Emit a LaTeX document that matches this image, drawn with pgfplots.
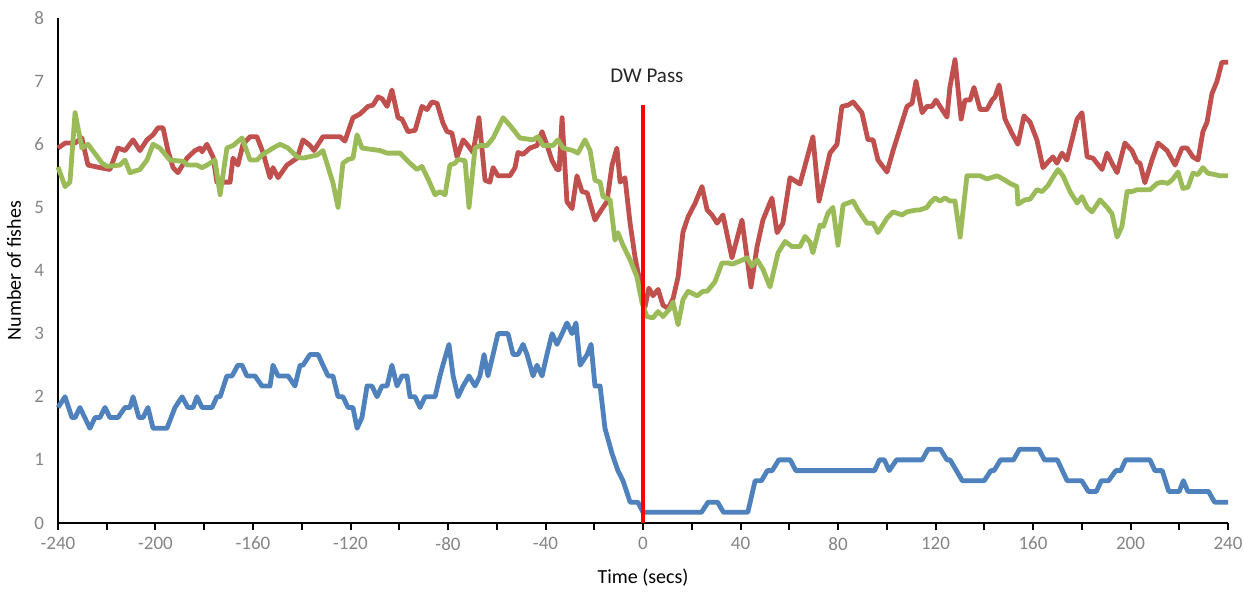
\documentclass[border=0pt]{standalone}
\usepackage{pgfplots}
\pgfplotsset{compat=1.18}
\usepackage{fontspec}
\setmainfont{Carlito}
\definecolor{cred}{HTML}{C0504D}
\definecolor{cgreen}{HTML}{9BBB59}
\definecolor{cblue}{HTML}{4F81BD}
\definecolor{tickgray}{HTML}{858585}
\definecolor{labgray}{HTML}{6E6E6E}
\begin{document}
\begin{tikzpicture}
\begin{axis}[
  scale only axis, width=585pt, height=252.5pt,
  xmin=-240, xmax=240, ymin=0, ymax=8,
  axis x line*=bottom, axis y line*=left,
  axis line style={black, line width=1pt},
  xtick={-240,-200,...,240}, minor xtick={-220,-180,...,220},
  ytick={0,1,...,8},
  tick align=outside, major tick length=3.5pt, minor tick length=3.5pt,
  x tick style={black, line width=1pt},
  y tick style={draw=none},
  /pgf/number format/assume math mode=true,
  ticklabel style={font=\fontsize{9.5}{11}\selectfont, text=tickgray},
  xlabel={Time (secs)}, ylabel={Number of fishes},
  label style={font=\fontsize{9.5}{11}\selectfont, text=labgray},
  every axis x label/.style={at={(axis description cs:0.5,-0.109)}, anchor=center},
  every axis y label/.style={at={(axis description cs:-0.0376,0.5)}, anchor=center, rotate=90},
  clip=false,
  line join=round,
]
\addplot[cred, line width=2.4pt] coordinates {
(-240,5.94)(-237,6.02)(-233,6.02)(-230.2,6.1)(-227.7,5.67)(-222.8,5.63)(-218.7,5.6)(-215.4,5.94)(-212.5,5.9)(-209.2,6.07)(-206.4,5.9)(-203.5,6.07)(-201,6.15)(-199,6.26)(-196.9,6.26)(-194.9,5.9)(-192.8,5.63)(-190.8,5.55)(-187.1,5.78)(-183.8,5.9)(-181.7,5.94)(-180.9,5.88)(-178.9,6.0)(-176.4,5.8)(-174.8,5.4)(-169.4,5.4)(-168.2,5.78)(-166.2,5.67)(-164.1,6.0)(-161.2,6.12)(-158.4,6.12)(-155.9,5.87)(-153,5.47)(-151.8,5.63)(-149.7,5.47)(-146.1,5.67)(-141.9,5.78)(-139.5,6.07)(-136.6,5.98)(-135,5.9)(-131.3,6.12)(-124.3,6.12)(-122.3,6.05)(-119,6.42)(-116.1,6.48)(-112.8,6.6)(-110.8,6.62)(-108.7,6.75)(-107,6.72)(-105,6.6)(-103,6.86)(-100.5,6.42)(-98.9,6.4)(-96.4,6.2)(-93.5,6.22)(-90.7,6.6)(-88.6,6.55)(-86.6,6.67)(-84.5,6.65)(-82.1,6.34)(-80.4,6.2)(-78.4,6.18)(-76.3,5.8)(-73.8,6.07)(-71.8,5.98)(-69.7,5.87)(-67.3,6.42)(-64.8,5.43)(-62.8,5.4)(-61.5,5.63)(-59.5,5.5)(-54.6,5.5)(-52.5,5.63)(-51.3,5.87)(-49.2,5.84)(-46.4,5.94)(-43.5,5.98)(-41.4,6.2)(-39,5.94)(-37.3,5.74)(-35.3,5.6)(-34.4,5.6)(-33.2,6.42)(-31.2,5.09)(-29.1,4.98)(-27.1,5.5)(-25,5.25)(-22.9,5.23)(-19.7,4.8)(-17.6,4.93)(-14.8,5.09)(-12.7,5.67)(-10.7,5.94)(-9.4,5.4)(-7.4,5.47)(-5.3,4.75)(-3.3,4.22)(-1.2,3.8)(0.8,3.42)(2.4,3.72)(4.1,3.6)(6.2,3.7)(8.2,3.45)(10.3,3.4)(12.3,3.55)(14.4,3.9)(16.4,4.61)(18.5,4.85)(21.3,5.06)(24.2,5.33)(26.3,4.96)(28.3,4.88)(30.4,4.75)(32.8,4.88)(36.5,4.2)(40.6,4.8)(44.3,3.74)(46.8,4.38)(49.2,4.8)(52.9,5.15)(55,4.6)(57.4,4.75)(60.3,5.47)(64.4,5.37)(69.7,6.12)(72.2,5.1)(76.7,5.86)(79.6,6.0)(81.6,6.6)(84.1,6.62)(86.2,6.67)(89.8,6.5)(92.3,6.07)(94.4,6.07)(96.4,5.75)(100.1,5.56)(102.6,5.9)(108.3,6.6)(110.4,6.65)(112,7.0)(114.5,6.5)(116.5,6.6)(118.6,6.6)(120.2,6.7)(122.7,6.55)(124.7,6.43)(125.9,6.9)(128,7.34)(130.5,6.4)(132.1,6.7)(134.2,6.7)(135.8,6.9)(138.3,6.55)(141.1,6.55)(143.2,6.7)(144.4,6.75)(146.1,6.94)(148.5,6.4)(151.4,6.17)(153.8,6.0)(156.3,6.45)(158.8,6.35)(161.6,6.07)(164.1,5.63)(166.2,5.72)(168.2,5.8)(169.8,5.7)(171.9,5.86)(173.9,5.75)(176,6.07)(178.1,6.4)(180.1,6.5)(182.2,5.8)(184.6,5.78)(188.3,5.6)(190.4,5.86)(192.4,5.7)(194.5,5.55)(197.7,6.02)(200.6,5.9)(202.7,5.72)(203.9,5.7)(205.9,5.39)(208.8,5.75)(211.3,6.02)(215,5.9)(218.3,5.67)(221.1,5.94)(223.2,5.94)(225.6,5.8)(227.7,5.75)(229.7,6.2)(231.4,6.35)(233.4,6.8)(235.5,7.0)(237.5,7.3)(240,7.3)
};
\addplot[cgreen, line width=2.4pt] coordinates {
(-240,5.64)(-237.1,5.33)(-235.1,5.4)(-233,6.5)(-230.2,5.94)(-227.7,6.0)(-224.8,5.85)(-221.9,5.7)(-219.9,5.65)(-214.6,5.67)(-212.5,5.75)(-210.5,5.55)(-206.4,5.6)(-203.5,5.75)(-201,6.0)(-198.2,5.94)(-194.1,5.75)(-188.7,5.73)(-186.7,5.67)(-183,5.67)(-180.9,5.63)(-178.9,5.67)(-175.6,5.75)(-173.5,5.2)(-170.7,5.94)(-168.2,5.98)(-164.5,6.1)(-161.2,5.75)(-158.4,5.75)(-156.3,5.83)(-151.8,5.94)(-148.9,6.0)(-145.6,5.94)(-141.9,5.8)(-139.5,5.78)(-133.7,5.83)(-131.3,5.9)(-127.2,5.39)(-125.1,5.0)(-123.1,5.7)(-121,5.76)(-119,5.78)(-117.3,6.15)(-115.3,5.94)(-107.9,5.9)(-105,5.86)(-99.7,5.86)(-95.6,5.7)(-92.7,5.6)(-90.7,5.65)(-88.2,5.45)(-85.3,5.2)(-83.3,5.25)(-81.2,5.2)(-79.2,5.67)(-77.1,5.7)(-75.9,5.76)(-73,5.74)(-71.4,5.0)(-68.9,5.94)(-66.9,5.98)(-64,5.98)(-61.5,6.1)(-57.4,6.42)(-54.6,6.3)(-50.5,6.1)(-45.1,6.07)(-43.1,6.12)(-41,5.98)(-36.9,5.98)(-34.9,6.07)(-32.8,5.94)(-28.7,5.9)(-26.7,5.86)(-23.8,6.07)(-21.7,5.9)(-19.7,5.43)(-17.6,5.4)(-16.4,5.17)(-13.5,5.12)(-11.5,4.48)(-10.3,4.6)(-8.2,4.4)(-5.3,4.17)(-2.5,3.9)(-0.4,3.49)(1.6,3.27)(4.1,3.25)(6.2,3.35)(8.2,3.27)(11.1,3.4)(12.3,3.5)(14.4,3.14)(16.4,3.54)(18.5,3.67)(22.2,3.6)(24.6,3.67)(26.3,3.67)(29.5,3.82)(32.4,4.12)(34.9,4.12)(36.5,4.1)(39.8,4.15)(42.7,4.2)(44.7,4.07)(46.8,4.17)(49.2,4.02)(52.1,3.74)(55.4,4.28)(58.3,4.46)(61.1,4.38)(64.4,4.38)(66.5,4.54)(68.5,4.45)(69.7,4.28)(72.6,4.72)(74,4.7)(75.9,4.91)(77.9,5.0)(80,4.4)(82.1,5.04)(86.2,5.1)(88.2,4.96)(91.9,4.75)(94.4,4.75)(96.4,4.6)(100.1,4.83)(102.6,4.93)(106.3,4.88)(108.3,4.93)(112.4,4.96)(113.6,4.96)(116.5,5.0)(117.7,5.07)(119.8,5.15)(121.8,5.1)(123.9,5.15)(125.9,5.1)(128,5.1)(130.1,4.53)(132.9,5.5)(138.3,5.5)(141.1,5.45)(145.2,5.5)(147.7,5.45)(150.6,5.38)(153.4,5.33)(153.8,5.05)(156.7,5.12)(158.8,5.13)(161.6,5.28)(163.7,5.25)(166.2,5.35)(168.2,5.48)(170.3,5.6)(172.3,5.5)(175.2,5.25)(178.1,5.07)(180.1,5.17)(182.2,5.0)(184.2,4.93)(187.5,5.12)(190.4,5.0)(192.4,4.9)(194.5,4.53)(196.5,4.7)(198.6,5.25)(200.6,5.25)(202.7,5.28)(208,5.28)(210.9,5.38)(212.9,5.4)(215.4,5.38)(217.4,5.45)(219.5,5.56)(221.5,5.3)(223.6,5.32)(225.6,5.54)(227.7,5.52)(229.7,5.63)(231.8,5.54)(234.7,5.52)(236.7,5.5)(240,5.5)
};
\addplot[cblue, line width=2.4pt] coordinates {
(-240,1.83)(-237.1,2.0)(-234.3,1.67)(-233,1.67)(-231,1.83)(-226.9,1.5)(-224.8,1.67)(-222.8,1.67)(-220.7,1.83)(-218.7,1.67)(-215.4,1.67)(-212.5,1.83)(-210.5,1.83)(-209.2,2.0)(-206.8,1.67)(-205.1,1.67)(-203.1,1.83)(-201,1.5)(-195.3,1.5)(-192,1.83)(-189.1,2.0)(-186.7,1.83)(-184.6,1.83)(-183,2.0)(-180.9,1.83)(-176.8,1.83)(-174.8,2.0)(-173.5,2.0)(-170.7,2.33)(-168.6,2.33)(-166.2,2.5)(-164.5,2.5)(-162.5,2.33)(-159.2,2.33)(-156.3,2.17)(-153,2.17)(-151.8,2.5)(-149.7,2.33)(-145.6,2.33)(-142.8,2.17)(-140.7,2.5)(-139.5,2.5)(-136.6,2.67)(-133.3,2.67)(-131.3,2.5)(-129.2,2.33)(-127.2,2.33)(-125.1,2.0)(-123.1,2.0)(-121,1.83)(-119,1.83)(-117.3,1.5)(-115.3,1.67)(-113.2,2.17)(-111.2,2.17)(-109.1,2.0)(-107.1,2.17)(-105,2.17)(-103,2.5)(-100.9,2.17)(-98.9,2.33)(-96.8,2.33)(-95.6,2.0)(-93.5,2.0)(-91.5,1.83)(-89.4,2.0)(-85.3,2.0)(-83.3,2.33)(-82.1,2.5)(-79.6,2.83)(-77.9,2.33)(-75.9,2.0)(-73.8,2.17)(-71.4,2.33)(-68.9,2.17)(-66.9,2.33)(-65.2,2.67)(-63.6,2.33)(-61.5,2.67)(-59.5,3.0)(-55.4,3.0)(-53.3,2.67)(-51.3,2.67)(-49.2,2.83)(-47.6,2.67)(-45.1,2.33)(-43.5,2.5)(-41.4,2.33)(-39.4,2.67)(-37.3,3.0)(-35.3,2.83)(-33.2,3.0)(-31.2,3.17)(-29.1,3.0)(-27.5,3.17)(-25.8,2.5)(-22.9,2.67)(-21.3,2.83)(-19.7,2.17)(-17.6,2.17)(-15.6,1.5)(-12.7,1.1)(-10.3,0.83)(-8.2,0.67)(-5.3,0.33)(-2.1,0.33)(0,0.17)(24,0.17)(26.7,0.33)(30.6,0.33)(33,0.17)(43,0.17)(46,0.67)(48.6,0.67)(51,0.83)(53,0.83)(55.7,1.0)(60.4,1.0)(62.7,0.83)(95,0.83)(97,1.0)(99,1.0)(101,0.83)(104,1.0)(114.5,1.0)(117,1.17)(122,1.17)(124.7,1.0)(126,1.0)(131,0.67)(140,0.67)(142.7,0.83)(144,0.83)(146.7,1.0)(152,1.0)(154.5,1.17)(162.4,1.17)(164.7,1.0)(170,1.0)(174,0.67)(180,0.67)(182.7,0.5)(186,0.5)(188,0.67)(191,0.67)(194,0.83)(196,0.83)(198,1.0)(208,1.0)(210,0.83)(213,0.83)(215.7,0.5)(220,0.5)(221.7,0.67)(223.5,0.5)(232,0.5)(234.5,0.33)(240,0.33)
};
\addplot[red, line width=1.8pt] coordinates {(0,0) (0,6.62)};
\node[font=\fontsize{10.5}{12}\selectfont, text=black!85] at (axis cs:1.6,7.08) {DW Pass};
\end{axis}
\pgfresetboundingbox
\useasboundingbox (-29pt,-34pt) rectangle (593pt,261.5pt);
\end{tikzpicture}
\end{document}
